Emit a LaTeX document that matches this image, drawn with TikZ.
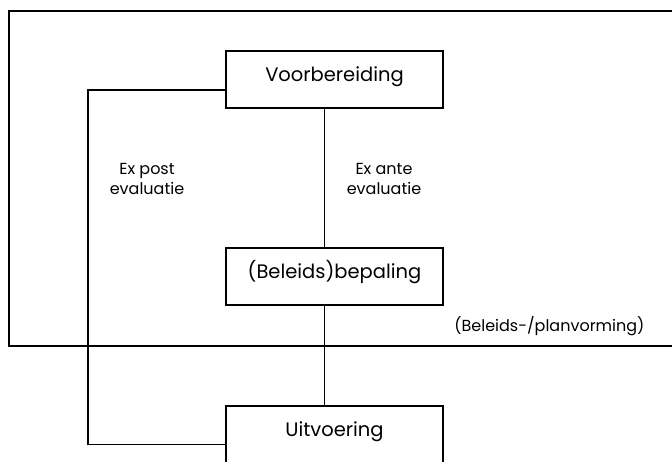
\documentclass[tikz,border=0pt]{standalone}
\usepackage{fontspec}
\setmainfont{Poppins}
\usepackage{tikz}
\usetikzlibrary{calc}
\tikzset{>=latex}
\tikzset{
  fase/.style={draw, line width=2pt, minimum width=217pt, minimum height=57pt,
    inner sep=0pt, text height=14pt, text depth=11pt, font=\fontsize{19.5}{22}\selectfont},
  lijn/.style={line width=1.5pt},
  tekst/.style={align=center, font=\fontsize{16}{20}\selectfont}
}

\begin{document}
\begin{tikzpicture}[x=1pt, y=-1pt]
\useasboundingbox (0,0) rectangle (672,461);
% planvorming
\draw[line width=2pt] (690,10.7) -- (8.5,10.7) -- (8.5,345.5) -- (690,345.5);

\node[fase] (voor) at (334.5,79.5) {Voorbereiding};
\node[fase] (bep) at (334.5,276.5) {(Beleids)bepaling};
\node[fase] (uit) at (334.5,434.5) {Uitvoering};

\coordinate (ante) at (324.5,0);
\coordinate (post) at (88,0);

\draw[lijn] (voor.south -| ante) -- (bep.north -| ante);
\draw[lijn] (bep.south -| ante) -- (uit.north -| ante);
\draw[lijn] ([yshift=-10.5pt]voor.west) -| ([yshift=-10pt]uit.west -| post) -- ([yshift=-10pt]uit.west);

\node[tekst] (postlbl) at (147,179) {Ex post\\evaluatie};
\node[tekst] (antelbl) at (384,179) {Ex ante\\evaluatie};
\node[tekst, anchor=east] (vorming) at (648,326) {(Beleids-/planvorming)};
\end{tikzpicture}
\end{document}
